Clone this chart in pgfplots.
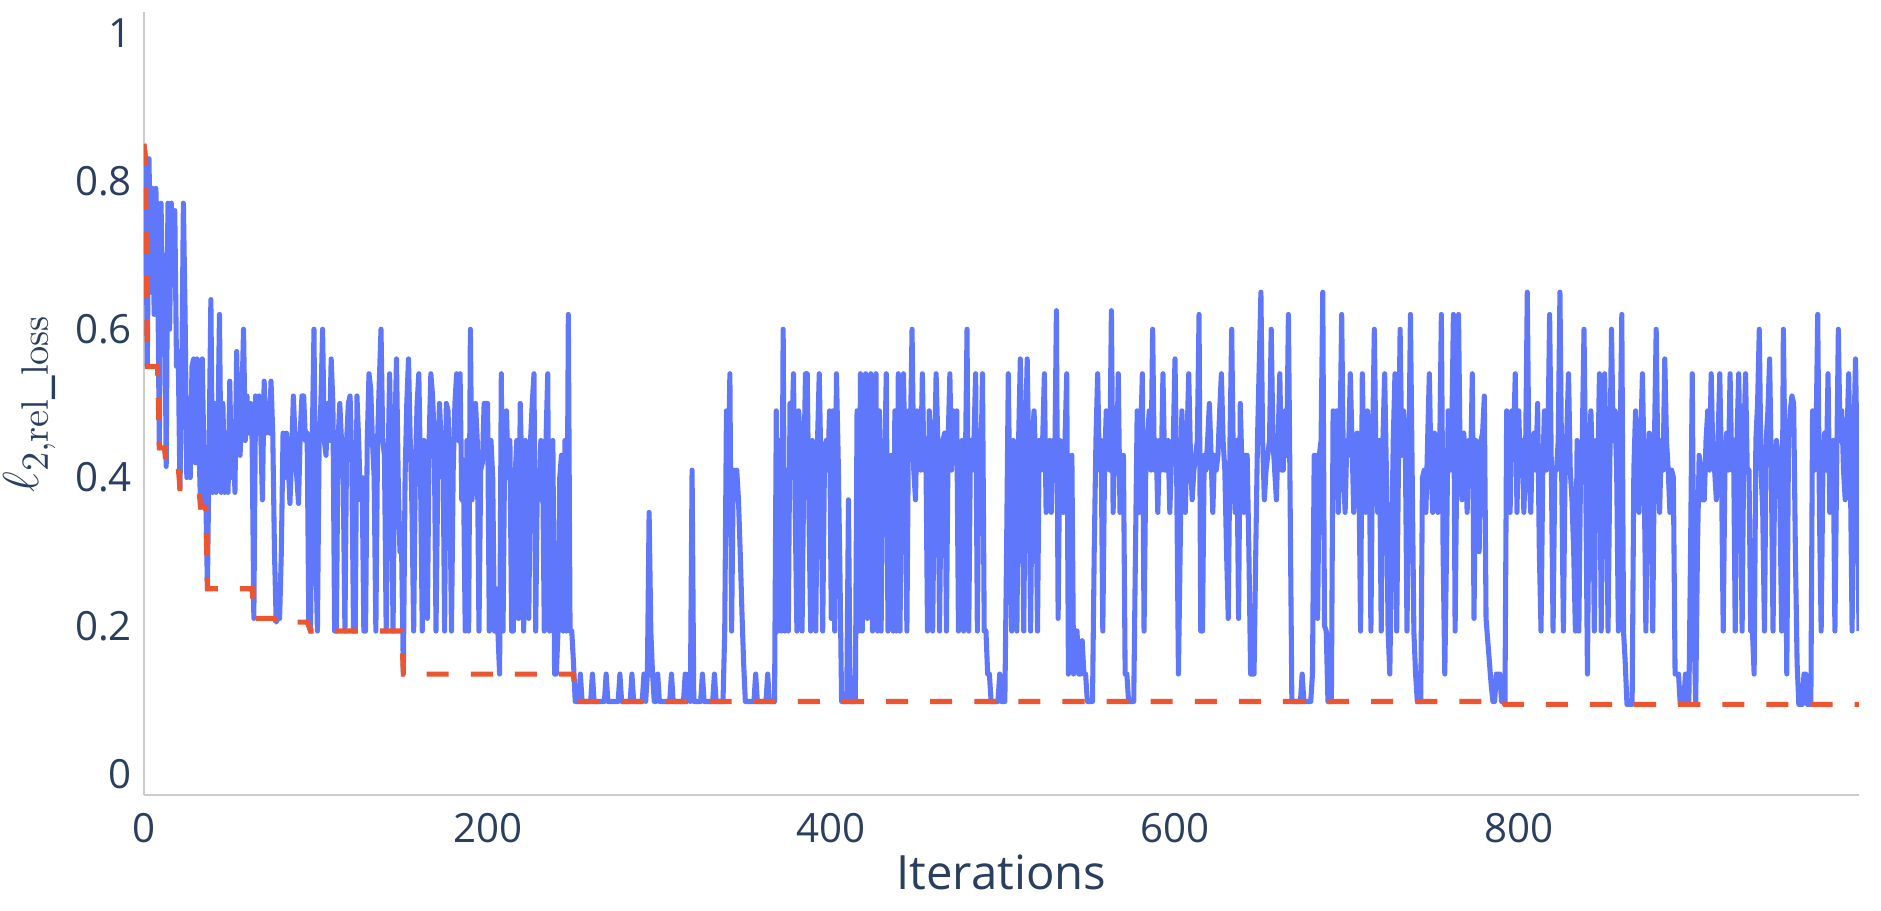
\documentclass[border=0pt]{standalone}
\usepackage[no-math]{fontspec}
\setmainfont{Open Sans}
\usepackage{pgfplots}
\usepackage{pgfplotstable}
\pgfplotsset{compat=1.18}
\definecolor{pblue}{HTML}{5F77FA}
\definecolor{porange}{HTML}{EC5530}
\definecolor{ptext}{HTML}{2A3F5F}
\definecolor{paxis}{HTML}{CCCCCC}

\pgfplotstableread[row sep=\\, header=false]{
0.85\\0.83\\0.55\\0.83\\0.65\\0.79\\0.62\\0.79\\0.70\\0.44\\
0.77\\0.62\\0.70\\0.415\\0.77\\0.60\\0.77\\0.66\\0.76\\0.55\\
0.57\\0.385\\0.52\\0.77\\0.62\\0.40\\0.45\\0.40\\0.55\\0.56\\
0.42\\0.56\\0.45\\0.36\\0.56\\0.42\\0.38\\0.25\\0.45\\0.64\\
0.38\\0.50\\0.38\\0.45\\0.62\\0.38\\0.50\\0.38\\0.46\\0.38\\
0.53\\0.40\\0.47\\0.38\\0.57\\0.45\\0.43\\0.50\\0.60\\0.45\\
0.51\\0.46\\0.50\\0.45\\0.21\\0.51\\0.50\\0.51\\0.46\\0.37\\
0.53\\0.46\\0.50\\0.46\\0.53\\0.46\\0.30\\0.205\\0.21\\0.21\\
0.30\\0.46\\0.40\\0.46\\0.42\\0.365\\0.43\\0.51\\0.45\\0.40\\
0.365\\0.46\\0.51\\0.51\\0.45\\0.46\\0.20\\0.193\\0.45\\0.60\\
0.30\\0.193\\0.45\\0.50\\0.60\\0.45\\0.43\\0.50\\0.45\\0.56\\
0.50\\0.193\\0.193\\0.45\\0.50\\0.45\\0.40\\0.193\\0.45\\0.50\\
0.51\\0.42\\0.193\\0.193\\0.51\\0.45\\0.37\\0.40\\0.193\\0.193\\
0.45\\0.54\\0.52\\0.45\\0.40\\0.193\\0.45\\0.53\\0.60\\0.45\\
0.43\\0.193\\0.40\\0.54\\0.42\\0.193\\0.45\\0.56\\0.40\\0.30\\
0.30\\0.135\\0.40\\0.50\\0.56\\0.45\\0.36\\0.193\\0.41\\0.50\\
0.54\\0.40\\0.193\\0.45\\0.41\\0.21\\0.45\\0.54\\0.51\\0.45\\
0.193\\0.40\\0.50\\0.45\\0.46\\0.193\\0.50\\0.49\\0.40\\0.193\\
0.41\\0.50\\0.54\\0.45\\0.54\\0.37\\0.40\\0.193\\0.45\\0.193\\
0.60\\0.37\\0.45\\0.50\\0.45\\0.193\\0.41\\0.42\\0.50\\0.50\\
0.50\\0.193\\0.45\\0.40\\0.193\\0.25\\0.193\\0.135\\0.54\\0.193\\
0.45\\0.49\\0.40\\0.45\\0.193\\0.193\\0.40\\0.45\\0.21\\0.50\\
0.40\\0.193\\0.45\\0.40\\0.21\\0.45\\0.50\\0.54\\0.193\\0.40\\
0.37\\0.45\\0.43\\0.193\\0.45\\0.54\\0.193\\0.40\\0.45\\0.135\\
0.135\\0.193\\0.40\\0.43\\0.193\\0.45\\0.193\\0.62\\0.193\\0.193\\
0.15\\0.098\\0.098\\0.098\\0.135\\0.098\\0.098\\0.098\\0.098\\0.098\\
0.098\\0.135\\0.098\\0.098\\0.098\\0.098\\0.098\\0.098\\0.098\\0.135\\
0.098\\0.098\\0.098\\0.098\\0.098\\0.098\\0.098\\0.135\\0.098\\0.098\\
0.098\\0.098\\0.098\\0.098\\0.135\\0.098\\0.098\\0.098\\0.098\\0.098\\
0.098\\0.135\\0.098\\0.135\\0.353\\0.193\\0.135\\0.098\\0.098\\0.135\\
0.098\\0.098\\0.098\\0.098\\0.098\\0.098\\0.098\\0.135\\0.098\\0.098\\
0.098\\0.098\\0.098\\0.098\\0.098\\0.135\\0.098\\0.135\\0.098\\0.41\\
0.098\\0.098\\0.098\\0.098\\0.098\\0.135\\0.098\\0.098\\0.098\\0.098\\
0.098\\0.098\\0.135\\0.098\\0.098\\0.098\\0.098\\0.098\\0.193\\0.49\\
0.40\\0.54\\0.193\\0.41\\0.40\\0.41\\0.37\\0.30\\0.22\\0.15\\
0.098\\0.098\\0.098\\0.098\\0.098\\0.098\\0.135\\0.098\\0.098\\0.098\\
0.098\\0.098\\0.098\\0.135\\0.098\\0.098\\0.098\\0.098\\0.49\\0.193\\
0.45\\0.193\\0.60\\0.193\\0.41\\0.193\\0.50\\0.45\\0.54\\0.353\\
0.193\\0.49\\0.45\\0.193\\0.41\\0.54\\0.54\\0.353\\0.193\\0.45\\
0.41\\0.193\\0.45\\0.54\\0.41\\0.193\\0.41\\0.45\\0.41\\0.49\\
0.21\\0.49\\0.193\\0.54\\0.43\\0.28\\0.098\\0.098\\0.098\\0.098\\
0.37\\0.098\\0.098\\0.098\\0.098\\0.49\\0.193\\0.54\\0.193\\0.45\\
0.54\\0.21\\0.45\\0.54\\0.193\\0.41\\0.54\\0.193\\0.49\\0.193\\
0.45\\0.41\\0.54\\0.193\\0.41\\0.43\\0.193\\0.49\\0.193\\0.54\\
0.193\\0.45\\0.54\\0.41\\0.193\\0.49\\0.45\\0.60\\0.41\\0.37\\
0.49\\0.45\\0.41\\0.54\\0.41\\0.45\\0.193\\0.49\\0.45\\0.193\\
0.41\\0.54\\0.45\\0.193\\0.41\\0.45\\0.46\\0.193\\0.45\\0.54\\
0.41\\0.49\\0.45\\0.49\\0.193\\0.37\\0.45\\0.193\\0.41\\0.60\\
0.193\\0.45\\0.41\\0.45\\0.54\\0.193\\0.45\\0.41\\0.54\\0.193\\
0.193\\0.135\\0.135\\0.098\\0.098\\0.098\\0.098\\0.098\\0.135\\0.098\\
0.098\\0.098\\0.30\\0.54\\0.353\\0.193\\0.45\\0.41\\0.193\\0.45\\
0.56\\0.41\\0.193\\0.45\\0.56\\0.41\\0.193\\0.45\\0.49\\0.41\\
0.193\\0.45\\0.41\\0.45\\0.54\\0.353\\0.41\\0.45\\0.353\\0.45\\
0.41\\0.625\\0.21\\0.45\\0.43\\0.353\\0.45\\0.54\\0.135\\0.30\\
0.43\\0.135\\0.193\\0.193\\0.135\\0.135\\0.18\\0.135\\0.135\\0.098\\
0.098\\0.098\\0.098\\0.30\\0.45\\0.54\\0.41\\0.45\\0.193\\0.41\\
0.49\\0.45\\0.41\\0.625\\0.353\\0.45\\0.41\\0.54\\0.353\\0.41\\
0.43\\0.135\\0.135\\0.098\\0.098\\0.098\\0.098\\0.30\\0.49\\0.353\\
0.45\\0.54\\0.193\\0.41\\0.45\\0.49\\0.41\\0.60\\0.41\\0.45\\
0.353\\0.45\\0.41\\0.54\\0.41\\0.41\\0.45\\0.353\\0.43\\0.45\\
0.56\\0.40\\0.135\\0.30\\0.49\\0.41\\0.353\\0.45\\0.54\\0.43\\
0.37\\0.41\\0.43\\0.45\\0.62\\0.193\\0.193\\0.43\\0.41\\0.45\\
0.50\\0.43\\0.353\\0.43\\0.41\\0.43\\0.49\\0.54\\0.45\\0.41\\
0.30\\0.21\\0.45\\0.60\\0.41\\0.353\\0.45\\0.21\\0.50\\0.41\\
0.353\\0.43\\0.43\\0.30\\0.135\\0.135\\0.135\\0.30\\0.45\\0.55\\
0.65\\0.45\\0.37\\0.41\\0.43\\0.45\\0.60\\0.45\\0.41\\0.37\\
0.45\\0.54\\0.41\\0.41\\0.49\\0.43\\0.62\\0.37\\0.098\\0.098\\
0.098\\0.098\\0.098\\0.098\\0.135\\0.098\\0.098\\0.098\\0.098\\0.098\\
0.135\\0.43\\0.43\\0.21\\0.43\\0.45\\0.65\\0.20\\0.193\\0.098\\
0.098\\0.098\\0.49\\0.41\\0.49\\0.353\\0.45\\0.62\\0.41\\0.353\\
0.45\\0.43\\0.54\\0.45\\0.353\\0.43\\0.46\\0.41\\0.193\\0.54\\
0.41\\0.353\\0.49\\0.45\\0.193\\0.45\\0.60\\0.41\\0.353\\0.45\\
0.193\\0.45\\0.54\\0.41\\0.193\\0.135\\0.30\\0.45\\0.54\\0.193\\
0.41\\0.60\\0.43\\0.49\\0.45\\0.193\\0.41\\0.62\\0.41\\0.193\\
0.135\\0.098\\0.098\\0.098\\0.40\\0.41\\0.353\\0.45\\0.54\\0.41\\
0.353\\0.46\\0.41\\0.353\\0.43\\0.62\\0.30\\0.135\\0.30\\0.49\\
0.41\\0.45\\0.62\\0.193\\0.43\\0.62\\0.41\\0.37\\0.46\\0.43\\
0.353\\0.45\\0.41\\0.54\\0.21\\0.45\\0.43\\0.30\\0.45\\0.46\\
0.51\\0.21\\0.18\\0.15\\0.12\\0.098\\0.098\\0.135\\0.135\\0.135\\
0.098\\0.098\\0.094\\0.49\\0.41\\0.353\\0.49\\0.45\\0.54\\0.353\\
0.49\\0.41\\0.45\\0.353\\0.43\\0.65\\0.41\\0.353\\0.45\\0.46\\
0.41\\0.50\\0.30\\0.193\\0.41\\0.49\\0.41\\0.45\\0.62\\0.41\\
0.193\\0.41\\0.41\\0.45\\0.65\\0.41\\0.193\\0.41\\0.46\\0.54\\
0.41\\0.37\\0.30\\0.193\\0.45\\0.193\\0.41\\0.45\\0.60\\0.40\\
0.135\\0.41\\0.49\\0.41\\0.193\\0.45\\0.41\\0.54\\0.193\\0.41\\
0.54\\0.41\\0.193\\0.41\\0.60\\0.45\\0.49\\0.41\\0.193\\0.45\\
0.62\\0.193\\0.15\\0.094\\0.094\\0.094\\0.094\\0.41\\0.49\\0.41\\
0.353\\0.45\\0.54\\0.41\\0.193\\0.41\\0.46\\0.41\\0.193\\0.45\\
0.60\\0.41\\0.353\\0.45\\0.41\\0.56\\0.45\\0.41\\0.353\\0.41\\
0.40\\0.135\\0.135\\0.135\\0.094\\0.094\\0.094\\0.135\\0.135\\0.094\\
0.30\\0.54\\0.20\\0.094\\0.30\\0.43\\0.41\\0.37\\0.37\\0.45\\
0.49\\0.41\\0.54\\0.43\\0.41\\0.37\\0.45\\0.54\\0.41\\0.193\\
0.41\\0.46\\0.41\\0.54\\0.41\\0.45\\0.193\\0.45\\0.54\\0.41\\
0.193\\0.45\\0.54\\0.41\\0.41\\0.193\\0.193\\0.135\\0.45\\0.50\\
0.60\\0.41\\0.353\\0.193\\0.45\\0.49\\0.56\\0.41\\0.193\\0.41\\
0.45\\0.43\\0.37\\0.193\\0.60\\0.41\\0.135\\0.45\\0.49\\0.51\\
0.50\\0.30\\0.15\\0.094\\0.094\\0.094\\0.135\\0.135\\0.094\\0.094\\
0.094\\0.49\\0.41\\0.45\\0.62\\0.353\\0.193\\0.41\\0.46\\0.41\\
0.54\\0.353\\0.41\\0.45\\0.193\\0.41\\0.60\\0.45\\0.49\\0.41\\
0.37\\0.45\\0.54\\0.41\\0.193\\0.45\\0.56\\0.41\\0.193\\
}\bluedata

\begin{document}
\begin{tikzpicture}
\useasboundingbox (-41.1pt,-33.1pt) rectangle (496.3pt,227.1pt);
\begin{axis}[
  scale only axis,
  width=490pt, height=223.7pt,
  xmin=0, xmax=998, ymin=-0.028, ymax=1.028,
  axis lines=left,
  axis line style={draw=paxis, line width=0.7pt, -},
  xtick={0,200,400,600,800},
  ytick={0,0.2,0.4,0.6,0.8,1},
  major tick length=0pt,
  /pgf/number format/assume math mode=true,
  ticklabel style={font=\fontsize{11.5}{13}\selectfont, text=ptext},
  yticklabel style={inner sep=0pt, anchor=east, xshift=-3.2pt},
  xticklabel style={inner sep=0pt, anchor=north, yshift=-5pt},
  xlabel={Iterations},
  xlabel style={font=\fontsize{13.5}{16}\selectfont, text=ptext,
    at={(axis description cs:0.5,0)}, anchor=base, yshift=-27.1pt},
  ylabel={$\ell_{2,\mathrm{rel\_loss}}$},
  ylabel style={font=\fontsize{15}{17}\selectfont, text=ptext,
    at={(axis description cs:-0.0665,0.5)}, anchor=center},
]
\addplot[pblue, line width=1.45pt, line join=round, no marks]
  table[x expr=\coordindex, y index=0] {\bluedata};
\addplot[porange, line width=1.45pt, no marks, dash pattern=on 6.3pt off 6.3pt]
  coordinates {(0,0.85)(1,0.83)(2,0.55)(8,0.55)(9,0.44)(12,0.44)(13,0.415)
  (20,0.415)(21,0.385)(32,0.385)(33,0.36)(36,0.36)(37,0.25)(63,0.25)
  (64,0.21)(76,0.21)(77,0.205)(95,0.205)(96,0.20)(97,0.193)(150,0.193)
  (151,0.135)(250,0.135)(251,0.098)(791,0.098)(792,0.094)(998,0.094)};
\end{axis}
\end{tikzpicture}
\end{document}
